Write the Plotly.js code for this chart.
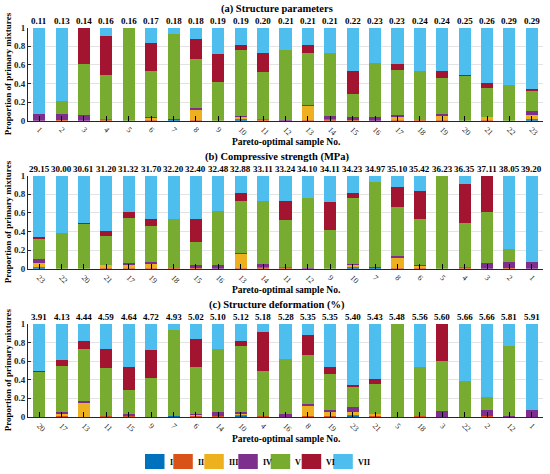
<!DOCTYPE html>
<html><head><meta charset="utf-8">
<script src="https://cdn.plot.ly/plotly-3.0.1.min.js"></script>
<style>html,body{margin:0;padding:0;background:#fff}#chart{width:550px;height:474px}</style>
</head><body><div id="chart"></div>
<script>
// ---- data ----
const components = ['I','II','III','IV','V','VI','VII'];
const colors = ['#0072BD','#D95319','#EDB120','#7E2F8E','#77AC30','#A2142F','#4DBEEE'];
// proportions per Pareto-optimal sample No. 1..23
const compI   = [0,0,0,0,0,0,0.008,0,0,0.01,0,0,0,0,0,0,0,0,0,0,0,0,0.012];
const compII  = [0,0.01,0,0.015,0,0.01,0,0.01,0,0.01,0.015,0,0.005,0.015,0.01,0,0.01,0.012,0.01,0,0.01,0,0.005];
const compIII = [0,0,0,0,0,0.015,0,0.11,0,0.015,0,0,0.15,0,0,0,0.025,0,0.045,0,0.025,0,0.04];
const compIV  = [0.07,0.06,0.06,0,0,0.01,0.007,0.015,0,0.015,0,0.01,0.013,0.04,0.025,0.035,0.022,0,0.02,0,0,0,0.047];
const compV   = [0,0.14,0.545,0.48,1,0.50,0.915,0.525,0.42,0.71,0.505,0.75,0.563,0.67,0.255,0.59,0.49,0.526,0.387,0.48,0.315,0.385,0.22];
const compVI  = [0,0,0.395,0.42,0,0.305,0,0.22,0.30,0.05,0.21,0,0.079,0,0.245,0,0.065,0,0.072,0.015,0.055,0,0.016];
const compVII = [0.93,0.79,0,0.085,0,0.16,0.07,0.12,0.28,0.19,0.27,0.24,0.19,0.275,0.465,0.375,0.388,0.462,0.466,0.505,0.595,0.615,0.66];
const compSeries = [compI,compII,compIII,compIV,compV,compVI,compVII];

const orderA = [1,2,3,4,5,6,7,8,9,10,11,12,13,14,15,16,17,18,19,20,21,22,23];
const valuesA = ['0.11','0.13','0.14','0.16','0.16','0.17','0.18','0.18','0.19','0.19','0.20','0.21','0.21','0.21','0.22','0.23','0.23','0.24','0.24','0.25','0.26','0.29','0.29'];
const orderB = [23,22,20,21,17,19,18,15,16,13,14,11,12,9,10,7,8,6,5,4,3,2,1];
const valuesB = ['29.15','30.00','30.61','31.20','31.32','31.70','32.20','32.40','32.48','32.88','33.11','33.24','34.10','34.11','34.23','34.97','35.10','35.42','36.23','36.35','37.11','38.05','39.20'];
const orderC = [20,17,13,11,15,9,7,6,14,10,4,16,8,19,23,21,5,18,3,22,2,12,1];
const valuesC = ['3.91','4.13','4.44','4.59','4.64','4.72','4.93','5.02','5.10','5.12','5.18','5.28','5.35','5.35','5.40','5.43','5.48','5.56','5.60','5.66','5.66','5.81','5.91'];
const panelTitles = ['(a) Structure parameters','(b) Compressive strength (MPa)','(c) Structure deformation (%)'];
const xTitle = 'Pareto-optimal sample No.';
const yTitle = 'Proportion of primary mixtures';
const yTickVals = [0,0.2,0.4,0.6,0.8,1];
const yTickText = ['0','0.2','0.4','0.6','0.8','1'];

// ---- layout geometry (pixels) ----
const FW=550, FH=474, L=28, R=7, T=27, B=57;
const W=FW-L-R, H=FH-T-B;
const px=x=>(x-L)/W, py=y=>(FH-B-y)/H;
const FONT='"Liberation Serif","Times New Roman",serif';
const panels=[
  {order:orderA, vals:valuesA, top:27.7, bot:120.7},
  {order:orderB, vals:valuesB, top:175.7, bot:268.7},
  {order:orderC, vals:valuesC, top:323.7, bot:417}
];

const traces=[];
const layout={
  width:FW, height:FH, margin:{l:L,r:R,t:T,b:B},
  paper_bgcolor:'#fff', plot_bgcolor:'#fff',
  barmode:'stack', bargap:0.46, showlegend:false,
  font:{family:FONT, color:'#000'},
  annotations:[], shapes:[]
};

panels.forEach((p,pi)=>{
  const sfx = pi===0?'':String(pi+1);
  const xa='x'+sfx, ya='y'+sfx;
  const cats = p.order.map(String);
  compSeries.forEach((s,ci)=>{
    traces.push({
      type:'bar', x:cats, y:p.order.map(n=>s[n-1]), name:components[ci],
      marker:{color:colors[ci], line:{width:0}}, xaxis:xa, yaxis:ya,
      hoverinfo:'skip'
    });
  });
  // objective value labels above each bar (x on the category axis)
  cats.forEach((c,i)=>{
    layout.annotations.push({
      xref:xa, yref:'paper', x:i, y:py(p.top-7), text:p.vals[i], showarrow:false,
      xanchor:'center', yanchor:'middle',
      font:{family:FONT, size:9, weight:'bold', color:'#000'}
    });
  });
  layout['xaxis'+sfx]={
    domain:[0,1], anchor:ya, type:'category', categoryorder:'array', categoryarray:cats,
    range:[-0.5,22.5], tickangle:45, ticks:'inside', ticklen:5, tickcolor:'#000', tickwidth:1,
    showline:true, linecolor:'#262626', linewidth:1, showgrid:false, zeroline:false,
    tickfont:{family:FONT, size:8, color:'#262626'}, automargin:false, fixedrange:true
  };
  layout['yaxis'+sfx]={
    domain:[py(p.bot),py(p.top)], anchor:xa, range:[0,1],
    tickvals:yTickVals, ticktext:yTickText, ticks:'inside', ticklen:3, tickcolor:'#262626',
    showline:true, linecolor:'#262626', linewidth:1, showgrid:true, gridcolor:'#e3e3e3', gridwidth:1,
    zeroline:false, tickfont:{family:FONT, size:9, weight:'bold', color:'#262626'},
    automargin:false, fixedrange:true
  };
  layout.annotations.push({
    xref:'paper', yref:'paper', x:px(277), y:py(p.top-18.5), text:panelTitles[pi],
    showarrow:false, xanchor:'center', yanchor:'middle',
    font:{family:FONT, size:10.5, weight:'bold', color:'#000'}
  });
  layout.annotations.push({
    xref:'paper', yref:'paper', x:px(286), y:py(p.bot+21.5), text:xTitle,
    showarrow:false, xanchor:'center', yanchor:'middle',
    font:{family:FONT, size:9.5, weight:'bold', color:'#000'}
  });
  layout.annotations.push({
    xref:'paper', yref:'paper', x:px(8), y:py((p.top+p.bot)/2), text:yTitle, textangle:-90,
    showarrow:false, xanchor:'center', yanchor:'middle',
    font:{family:FONT, size:9, weight:'bold', color:'#000'}
  });
});

// custom legend
const legX=[145,173.3,204.3,238.3,270.7,301.7,333.3];
components.forEach((c,i)=>{
  layout.shapes.push({type:'rect', xref:'paper', yref:'paper',
    x0:px(legX[i]), x1:px(legX[i]+19.5), y0:py(469), y1:py(454),
    fillcolor:colors[i], line:{width:0}});
  layout.annotations.push({xref:'paper', yref:'paper', x:px(legX[i]+22.5), y:py(462),
    text:c, showarrow:false, xanchor:'left', yanchor:'middle',
    font:{family:FONT, size:8, weight:'bold', color:'#000'}});
});

Plotly.newPlot('chart', traces, layout, {displayModeBar:false, staticPlot:true});
</script>
</body></html>
